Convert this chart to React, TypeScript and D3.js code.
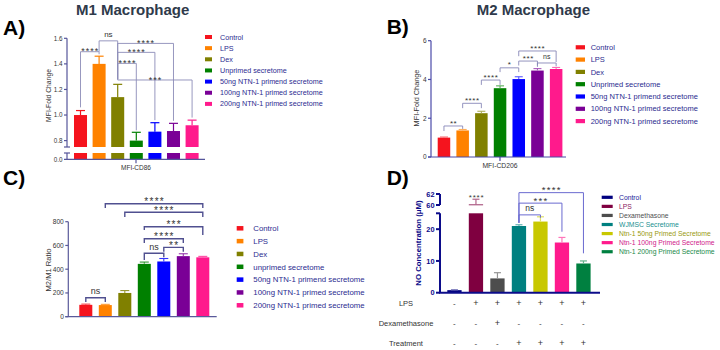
import * as d3 from 'd3'

const FONT = 'Arial, "Liberation Sans", Helvetica, sans-serif'

// groups shared by the M1, M2 and ratio panels
const groupsM = [
  'Control',
  'LPS',
  'Dex',
  'Unprimed secretome',
  '50ng NTN-1 primend secretome',
  '100ng NTN-1 primed secretome',
  '200ng NTN-1 primed secretome',
]
const groupsRatio = [
  'Control',
  'LPS',
  'Dex',
  'unprimed secretome',
  '50ng NTN-1 primend secretome',
  '100ng NTN-1 primed secretome',
  '200ng NTN-1 primed secretome',
]
const groupColors = ['#f5141e', '#ff8200', '#808000', '#008000', '#0000ff', '#7a0096', '#ff1a8c']

// A) M1 macrophage, MFI-CD86 fold change
const m1Values = [1.0, 1.4, 1.14, 0.8, 0.87, 0.875, 0.92]
const m1Errors = [0.035, 0.06, 0.1, 0.065, 0.07, 0.06, 0.04]
const m1Ticks = [0.8, 1.0, 1.2, 1.4, 1.6]

// B) M2 macrophage, MFI-CD206 fold change
const m2Values = [1.0, 1.37, 2.26, 3.55, 4.02, 4.46, 4.54]
const m2Errors = [0.03, 0.05, 0.1, 0.12, 0.12, 0.1, 0.08]
const m2Ticks = [0, 2, 4, 6]

// C) M2/M1 ratio
const ratioValues = [100, 98, 200, 445, 465, 510, 500]
const ratioErrors = [6, 6, 20, 15, 25, 20, 8]
const ratioTicks = [0, 200, 400, 600, 800]

// D) nitric oxide
const noGroups = [
  'Control',
  'LPS',
  'Dexamethasone',
  'WJMSC Secretome',
  'Ntn-1 50ng Primed Secretome',
  'Ntn-1 100ng Primed Secretome',
  'Ntn-1 200ng Primed Secretome',
]
const noColors = ['#00007f', '#7f0040', '#4d4d4d', '#008080', '#c8c800', '#ff1a8c', '#008040']
const noTextColors = ['#1a1a9a', '#8a2060', '#505050', '#1a9090', '#9a9a10', '#d0208a', '#1a8a4a']
const noValues = [0.8, 60.05, 4.5, 21, 22.4, 15.8, 9.2]
const noErrors = [0.1, 1.0, 1.8, 0.4, 1.5, 1.6, 0.8]
const noLowTicks = [0, 10, 20]
const noHighTicks = [60, 62]
const noRowLabels = ['LPS', 'Dexamethasone', 'Treatment']
const noRowSigns = [
  ['-', '+', '+', '+', '+', '+', '+'],
  ['-', '-', '+', '-', '-', '-', '-'],
  ['-', '-', '-', '+', '+', '+', '+'],
]

type Br = {a: number; b: number; at: number; endA: number; endB: number; label: string}

const m1Brackets: Br[] = [
  {a: 0, b: 1, at: 1.495, endA: 1.06, endB: 1.475, label: '****'},
  {a: 1, b: 2, at: 1.58, endA: 1.495, endB: 1.28, label: 'ns'},
  {a: 2, b: 5, at: 1.56, endA: 1.28, endB: 0.955, label: '****'},
  {a: 2, b: 4, at: 1.49, endA: 1.28, endB: 0.96, label: '****'},
  {a: 2, b: 3, at: 1.404, endA: 1.28, endB: 0.88, label: '****'},
  {a: 2, b: 6, at: 1.274, endA: 1.28, endB: 0.98, label: '***'},
]
const m2Brackets: Br[] = [
  {a: 0, b: 1, at: 1.6, endA: 1.34, endB: 1.45, label: '**'},
  {a: 1, b: 2, at: 2.77, endA: 2.52, endB: 2.52, label: '****'},
  {a: 2, b: 3, at: 3.97, endA: 3.72, endB: 3.72, label: '****'},
  {a: 3, b: 4, at: 4.6, endA: 4.38, endB: 4.38, label: '*'},
  {a: 4, b: 5, at: 4.95, endA: 4.72, endB: 4.72, label: '***'},
  {a: 5, b: 6, at: 4.85, endA: 4.65, endB: 4.68, label: 'ns'},
  {a: 4, b: 6, at: 5.47, endA: 5.2, endB: 4.9, label: '****'},
]
const ratioBrackets: Br[] = [
  {a: 0, b: 1, at: 160, endA: 124, endB: 124, label: 'ns'},
  {a: 1, b: 6, at: 951, endA: 915, endB: 915, label: '****'},
  {a: 2, b: 6, at: 879, endA: 840, endB: 840, label: '****'},
  {a: 3, b: 6, at: 758, endA: 730, endB: 688, label: '***'},
  {a: 3, b: 5, at: 657, endA: 620, endB: 620, label: '****'},
  {a: 4, b: 5, at: 584, endA: 548, endB: 547, label: '**'},
  {a: 3, b: 4, at: 534, endA: 478, endB: 500, label: 'ns'},
]
const noBrackets: Br[] = [
  {a: 3, b: 4, at: 24.5, endA: 22, endB: 23.6, label: 'ns'},
  {a: 3, b: 5, at: 28.2, endA: 22, endB: 19.2, label: '***'},
  {a: 3, b: 6, at: 31.5, endA: 22, endB: 12.4, label: '****'},
]

const tint = (c: string, t: number) => d3.interpolateRgb(c, '#ffffff')(t)

function Bracket({
  br, cx, y, color, sw, fs, ls, starGap,
}: {
  br: Br
  cx: (i: number) => number
  y: (v: number) => number
  color: string
  sw: number
  fs: number
  ls: number
  starGap: number
}) {
  const x1 = cx(br.a)
  const x2 = cx(br.b)
  const yl = y(br.at)
  const stars = br.label !== 'ns'
  const ty = stars ? yl - starGap + 0.58 * fs : yl - 3.5
  return (
    <g>
      <path d={`M${x1},${y(br.endA)}V${yl}H${x2}V${y(br.endB)}`} fill="none" stroke={color} strokeWidth={sw} />
      <text
        x={(x1 + x2) / 2 + (stars ? ls / 2 : 0)}
        y={ty}
        textAnchor="middle"
        fontSize={stars ? fs : fs - 1}
        letterSpacing={stars ? ls : 0}
        fill="#333"
      >
        {br.label}
      </text>
    </g>
  )
}

function Legend({
  items, colors, x, y0, step, sw, sh, tx, fs, textColor,
}: {
  items: string[]
  colors: string[]
  x: number
  y0: number
  step: number
  sw: number
  sh: number
  tx: number
  fs: number
  textColor: string | string[]
}) {
  return (
    <g>
      {items.map((t, i) => {
        const cy = y0 + i * step
        return (
          <g key={t}>
            <rect x={x} y={cy - sh / 2} width={sw} height={sh} fill={colors[i]} />
            <text x={tx} y={cy + fs * 0.35} fontSize={fs} fill={Array.isArray(textColor) ? textColor[i] : textColor}>
              {t}
            </text>
          </g>
        )
      })}
    </g>
  )
}

function ErrorBar({x, y0, y1, cap, color, sw}: {x: number; y0: number; y1: number; cap: number; color: string; sw: number}) {
  return (
    <g stroke={color} strokeWidth={sw}>
      <line x1={x} x2={x} y1={y0} y2={y1} />
      <line x1={x - cap / 2} x2={x + cap / 2} y1={y1} y2={y1} />
    </g>
  )
}

function PanelA() {
  const x = d3.scaleBand<string>().domain(groupsM).range([74, 198.6]).paddingInner(0.3)
  const cx = (i: number) => (x(groupsM[i]) ?? 0) + x.bandwidth() / 2
  const yTop = d3.scaleLinear().domain([0.75, 1.6]).range([147, 38.3])
  const yBot = d3.scaleLinear().domain([0, 0.05]).range([159.3, 153])
  const ax = 67
  const axisColor = '#55559a'
  return (
    <g>
      <text x={76} y={15} fontSize={15} fontWeight="bold" fill="#2f3a4b">M1 Macrophage</text>
      <text x={3} y={35} fontSize={21} fontWeight="bold" fill="#000">A)</text>
      {m1Values.map((v, i) => (
        <g key={i}>
          <rect x={x(groupsM[i])} y={yTop(v)} width={x.bandwidth()} height={yTop(0.75) - yTop(v)} fill={groupColors[i]} />
          <rect x={x(groupsM[i])} y={yBot(0.05)} width={x.bandwidth()} height={yBot(0) - yBot(0.05)} fill={groupColors[i]} />
          <ErrorBar x={cx(i)} y0={yTop(v)} y1={yTop(v + m1Errors[i])} cap={9} color={groupColors[i]} sw={1.2} />
        </g>
      ))}
      {m1Brackets.map((b, i) => (
        <Bracket key={i} br={b} cx={cx} y={yTop} color="#8c8cb8" sw={0.9} fs={9} ls={1} starGap={2.5} />
      ))}
      <g stroke={axisColor} strokeWidth={1.2}>
        <line x1={ax} x2={ax} y1={yTop(1.6)} y2={yTop(0.75)} />
        <line x1={ax - 3} x2={ax + 3} y1={yTop(0.75)} y2={yTop(0.75)} />
        <line x1={ax} x2={ax} y1={yBot(0.05)} y2={yBot(0)} />
        <line x1={ax - 3} x2={ax + 3} y1={yBot(0.05)} y2={yBot(0.05)} />
        <line x1={ax - 3} x2={205} y1={yBot(0)} y2={yBot(0)} />
        <line x1={136} x2={136} y1={yBot(0)} y2={yBot(0) + 4} />
        {m1Ticks.map(t => (
          <line key={t} x1={ax - 3} x2={ax} y1={yTop(t)} y2={yTop(t)} />
        ))}
      </g>
      {m1Ticks.map(t => (
        <text key={t} x={ax - 4.5} y={yTop(t) + 2.2} fontSize={6.3} textAnchor="end" fill="#333">
          {d3.format('.1f')(t)}
        </text>
      ))}
      <text x={ax - 4.5} y={yBot(0) + 2.2} fontSize={6.3} textAnchor="end" fill="#333">0.0</text>
      <text x={136} y={170} fontSize={6.5} textAnchor="middle" fill="#333">MFI-CD86</text>
      <text transform="translate(50.5,95.5) rotate(-90)" fontSize={6.8} textAnchor="middle" fill="#333">MFI-Fold Change</text>
      <Legend items={groupsM} colors={groupColors} x={205} y0={37} step={11.15} sw={7} sh={4} tx={220} fs={7.2} textColor="#2b2b8f" />
    </g>
  )
}

function PanelB() {
  const x = d3.scaleBand<string>().domain(groupsM).range([437.7, 562.4]).paddingInner(0.33)
  const cx = (i: number) => (x(groupsM[i]) ?? 0) + x.bandwidth() / 2
  const y = d3.scaleLinear().domain([0, 6]).range([157, 40.7])
  const ax = 431
  const axisColor = '#4a4aa8'
  return (
    <g>
      <text x={476.7} y={15} fontSize={15} fontWeight="bold" fill="#2f3a4b">M2 Macrophage</text>
      <text x={386.7} y={33.5} fontSize={21} fontWeight="bold" fill="#000">B)</text>
      {m2Values.map((v, i) => (
        <g key={i}>
          <rect x={x(groupsM[i])} y={y(v)} width={x.bandwidth()} height={y(0) - y(v)} fill={groupColors[i]} />
          <ErrorBar x={cx(i)} y0={y(v)} y1={y(v + m2Errors[i])} cap={8} color={tint(groupColors[i], 0.35)} sw={1.1} />
        </g>
      ))}
      {m2Brackets.map((b, i) => (
        <Bracket key={i} br={b} cx={cx} y={y} color="#8888b8" sw={0.9} fs={8} ls={0.6} starGap={5} />
      ))}
      <g stroke={axisColor} strokeWidth={1.2}>
        <line x1={ax} x2={ax} y1={y(6)} y2={y(0)} />
        <line x1={ax - 3} x2={566} y1={y(0)} y2={y(0)} />
        <line x1={500} x2={500} y1={y(0)} y2={y(0) + 4} />
        {m2Ticks.map(t => (
          <line key={t} x1={ax - 3} x2={ax} y1={y(t)} y2={y(t)} />
        ))}
      </g>
      {m2Ticks.map(t => (
        <text key={t} x={ax - 4.5} y={y(t) + 2.3} fontSize={6.5} textAnchor="end" fill="#333">{t}</text>
      ))}
      <text x={500} y={168} fontSize={6.8} textAnchor="middle" fill="#333">MFI-CD206</text>
      <text transform="translate(418.5,98) rotate(-90)" fontSize={7.3} textAnchor="middle" fill="#333">MFI-Fold Change</text>
      <Legend items={groupsM} colors={groupColors} x={575.7} y0={47.3} step={12.3} sw={9.3} sh={4.2} tx={590.7} fs={7.5} textColor="#2b2b8f" />
    </g>
  )
}

function PanelC() {
  const x = d3.scaleBand<string>().domain(groupsRatio).range([79.3, 209.3]).paddingInner(0.333)
  const cx = (i: number) => (x(groupsRatio[i]) ?? 0) + x.bandwidth() / 2
  const y = d3.scaleLinear().domain([0, 800]).range([316.7, 221.7])
  const ax = 68.3
  const axisColor = '#5a5a9a'
  return (
    <g>
      <text x={3} y={185} fontSize={21} fontWeight="bold" fill="#000">C)</text>
      {ratioValues.map((v, i) => (
        <g key={i}>
          <rect x={x(groupsRatio[i])} y={y(v)} width={x.bandwidth()} height={y(0) - y(v)} fill={groupColors[i]} />
          <ErrorBar x={cx(i)} y0={y(v)} y1={y(v + ratioErrors[i])} cap={9} color={tint(groupColors[i], 0.2)} sw={1.1} />
        </g>
      ))}
      {ratioBrackets.map((b, i) => (
        <Bracket key={i} br={b} cx={cx} y={y} color="#505090" sw={1.4} fs={10} ls={1.3} starGap={4.2} />
      ))}
      <g stroke={axisColor} strokeWidth={1.2}>
        <line x1={ax} x2={ax} y1={y(800)} y2={y(0)} />
        <line x1={ax - 3} x2={216.7} y1={y(0)} y2={y(0)} />
        {ratioTicks.map(t => (
          <line key={t} x1={ax - 3} x2={ax} y1={y(t)} y2={y(t)} />
        ))}
      </g>
      {ratioTicks.map(t => (
        <text key={t} x={ax - 4.5} y={y(t) + 2.3} fontSize={6.6} textAnchor="end" fill="#333">{t}</text>
      ))}
      <text transform="translate(50.5,270) rotate(-90)" fontSize={7.6} textAnchor="middle" fill="#333">M2/M1 Ratio</text>
      <Legend items={groupsRatio} colors={groupColors} x={236.7} y0={228.3} step={12.83} sw={6.7} sh={4.5} tx={253.3} fs={7.8} textColor="#2b2b8f" />
    </g>
  )
}

function PanelD() {
  const x = d3.scaleBand<string>().domain(noGroups).range([447.3, 590.6]).paddingInner(0.335)
  const cx = (i: number) => (x(noGroups[i]) ?? 0) + x.bandwidth() / 2
  const yLo = d3.scaleLinear().domain([0, 25]).range([292.7, 213.3])
  const yHi = d3.scaleLinear().domain([60, 62]).range([205, 194])
  const ax = 440
  const navy = '#0c0c8a'
  const rowY = [305.5, 326, 346]
  return (
    <g>
      <text x={386.7} y={185} fontSize={21} fontWeight="bold" fill="#000">D)</text>
      {noValues.map((v, i) => {
        const lowTop = Math.min(v, 25)
        const broken = v > 25
        const yErrBase = broken ? yHi(v) : yLo(v)
        const yErrTop = broken ? yHi(v + noErrors[i]) : yLo(v + noErrors[i])
        const errColor = tint(noColors[i], 0.4)
        return (
          <g key={i}>
            <rect x={x(noGroups[i])} y={yLo(lowTop)} width={x.bandwidth()} height={yLo(0) - yLo(lowTop)} fill={noColors[i]} />
            {broken && (
              <line x1={x(noGroups[i])} x2={(x(noGroups[i]) ?? 0) + x.bandwidth()} y1={yHi(v)} y2={yHi(v)} stroke={errColor} strokeWidth={1.3} />
            )}
            <ErrorBar x={cx(i)} y0={yErrBase} y1={yErrTop} cap={7} color={errColor} sw={1.2} />
          </g>
        )
      })}
      <text x={cx(1) + 0.6} y={yHi(noValues[1] + noErrors[1]) + 0.5} fontSize={8} letterSpacing={0.8} textAnchor="middle" fill="#3a3a3a">
        ****
      </text>
      {noBrackets.map((b, i) => (
        <Bracket key={i} br={b} cx={cx} y={yLo} color="#6a6ad0" sw={1} fs={9.5} ls={1.3} starGap={5} />
      ))}
      <g stroke={navy} strokeWidth={2}>
        <line x1={ax} x2={ax} y1={yLo(25)} y2={yLo(0)} />
        <line x1={ax} x2={ax} y1={yHi(62)} y2={yHi(60)} />
        <line x1={ax - 4} x2={ax} y1={yLo(25)} y2={yLo(25)} />
        <line x1={ax - 1} x2={600} y1={yLo(0)} y2={yLo(0)} />
        {noLowTicks.map(t => (
          <line key={t} x1={ax - 4} x2={ax} y1={yLo(t)} y2={yLo(t)} />
        ))}
        {noHighTicks.map(t => (
          <line key={t} x1={ax - 4} x2={ax} y1={yHi(t)} y2={yHi(t)} />
        ))}
      </g>
      {noLowTicks.map(t => (
        <text key={t} x={ax - 5.5} y={yLo(t) + 2.6} fontSize={7.4} fontWeight="bold" textAnchor="end" fill={navy}>{t}</text>
      ))}
      {noHighTicks.map(t => (
        <text key={t} x={ax - 5.5} y={yHi(t) + 2.6} fontSize={7.4} fontWeight="bold" textAnchor="end" fill={navy}>{t}</text>
      ))}
      <text transform="translate(421,243) rotate(-90)" fontSize={7.8} fontWeight="bold" textAnchor="middle" fill={navy}>
        NO Concentration (μM)
      </text>
      {noRowLabels.map((r, ri) => (
        <g key={r}>
          <text x={406} y={rowY[ri]} fontSize={7.5} textAnchor="middle" fill="#333">{r}</text>
          {noRowSigns[ri].map((s, i) => (
            <text key={i} x={cx(i)} y={rowY[ri]} fontSize={s === '+' ? 9 : 8} textAnchor="middle" fill="#333">{s}</text>
          ))}
        </g>
      ))}
      <Legend items={noGroups} colors={noColors} x={601.7} y0={197.3} step={9.07} sw={11} sh={3.2} tx={619} fs={6.8} textColor={noTextColors} />
    </g>
  )
}

export default function App() {
  return (
    <svg
      width={720}
      height={350}
      viewBox="0 0 720 350"
      style={{position: 'absolute', left: 0, top: 0, background: '#fff', fontFamily: FONT}}
    >
      <PanelA />
      <PanelB />
      <PanelC />
      <PanelD />
    </svg>
  )
}
